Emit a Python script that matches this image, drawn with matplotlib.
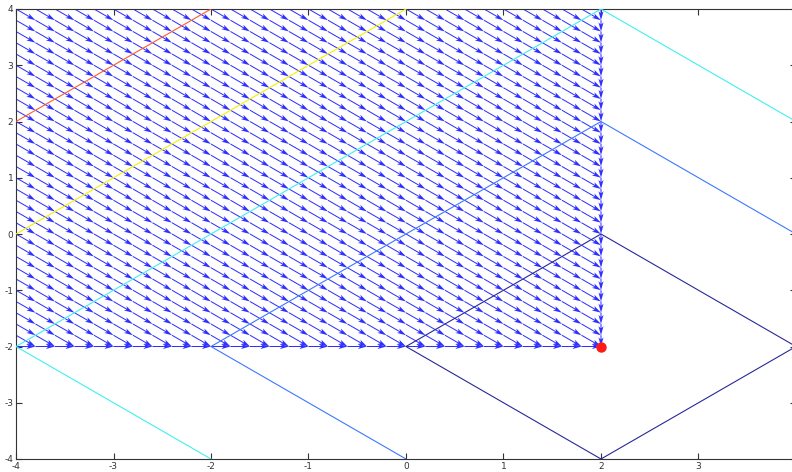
import numpy as np
import matplotlib
matplotlib.use("Agg")
import matplotlib.pyplot as plt

plt.rcParams["axes.unicode_minus"] = False

# malla del campo de direcciones (paso 0.2)
grid_x = np.round(np.arange(-4, 2.01, 0.2), 2)
grid_y = np.round(np.arange(-2, 4.01, 0.2), 2)
paso = 0.2

# direcciones
dir_interior = (1, -1)
dir_borde_inferior = (1, 0)
dir_borde_derecho = (0, -1)

# curvas de nivel (vertices) y su color
curvas = [
    ([(-4, 2), (-2, 4)], "#ff5a30"),
    ([(-4, 0), (0, 4)], "#f2f200"),
    ([(-4, -2), (2, 4), (4, 2)], "#40f0f0"),
    ([(-4, -2), (-2, -4)], "#40f0f0"),
    ([(0, -4), (-2, -2), (2, 2), (4, 0)], "#3c78ff"),
    ([(2, -4), (0, -2), (2, 0), (4, -2)], "#28289a"),
    ([(2, -4), (4, -2)], "#28289a"),
]
punto_final = (2, -2)

X, Y = np.meshgrid(grid_x, grid_y)
U = np.full(X.shape, dir_interior[0] * paso, dtype=float)
V = np.full(X.shape, dir_interior[1] * paso, dtype=float)
abajo = np.isclose(Y, -2)
derecha = np.isclose(X, 2)
U[abajo] = dir_borde_inferior[0] * paso
V[abajo] = dir_borde_inferior[1] * paso
U[derecha] = dir_borde_derecho[0] * paso
V[derecha] = dir_borde_derecho[1] * paso
esquina = abajo & derecha

fig = plt.figure(figsize=(7.92, 4.72), dpi=100)
ax = fig.add_axes([16 / 792, 13 / 472, 8 * 97.5 / 792, 450 / 472])

ax.quiver(X[~esquina], Y[~esquina], U[~esquina], V[~esquina],
          angles="xy", scale_units="xy", scale=1, color="#3030ff",
          width=0.0013, headwidth=5, headlength=9, headaxislength=7,
          zorder=2)

for puntos, color in curvas:
    xs = [p[0] for p in puntos]
    ys = [p[1] for p in puntos]
    ax.plot(xs, ys, color=color, lw=0.8, zorder=3)

ax.plot(punto_final[0], punto_final[1], "o", color="#ff1a1a", ms=6.5,
        zorder=4, clip_on=False)

ax.set_xlim(-4, 4)
ax.set_ylim(-4, 4)
ax.set_xticks(range(-4, 4))
ax.set_yticks(range(-4, 5))
ax.tick_params(direction="in", top=True, right=True, labelsize=6.5,
               length=4, width=0.8, colors="#333333")
ax.tick_params(axis="y", pad=2)
ax.tick_params(axis="x", pad=2.5)
for s in ax.spines.values():
    s.set_color("#333333")
    s.set_linewidth(0.8)

fig.savefig("out.png", dpi=100)
